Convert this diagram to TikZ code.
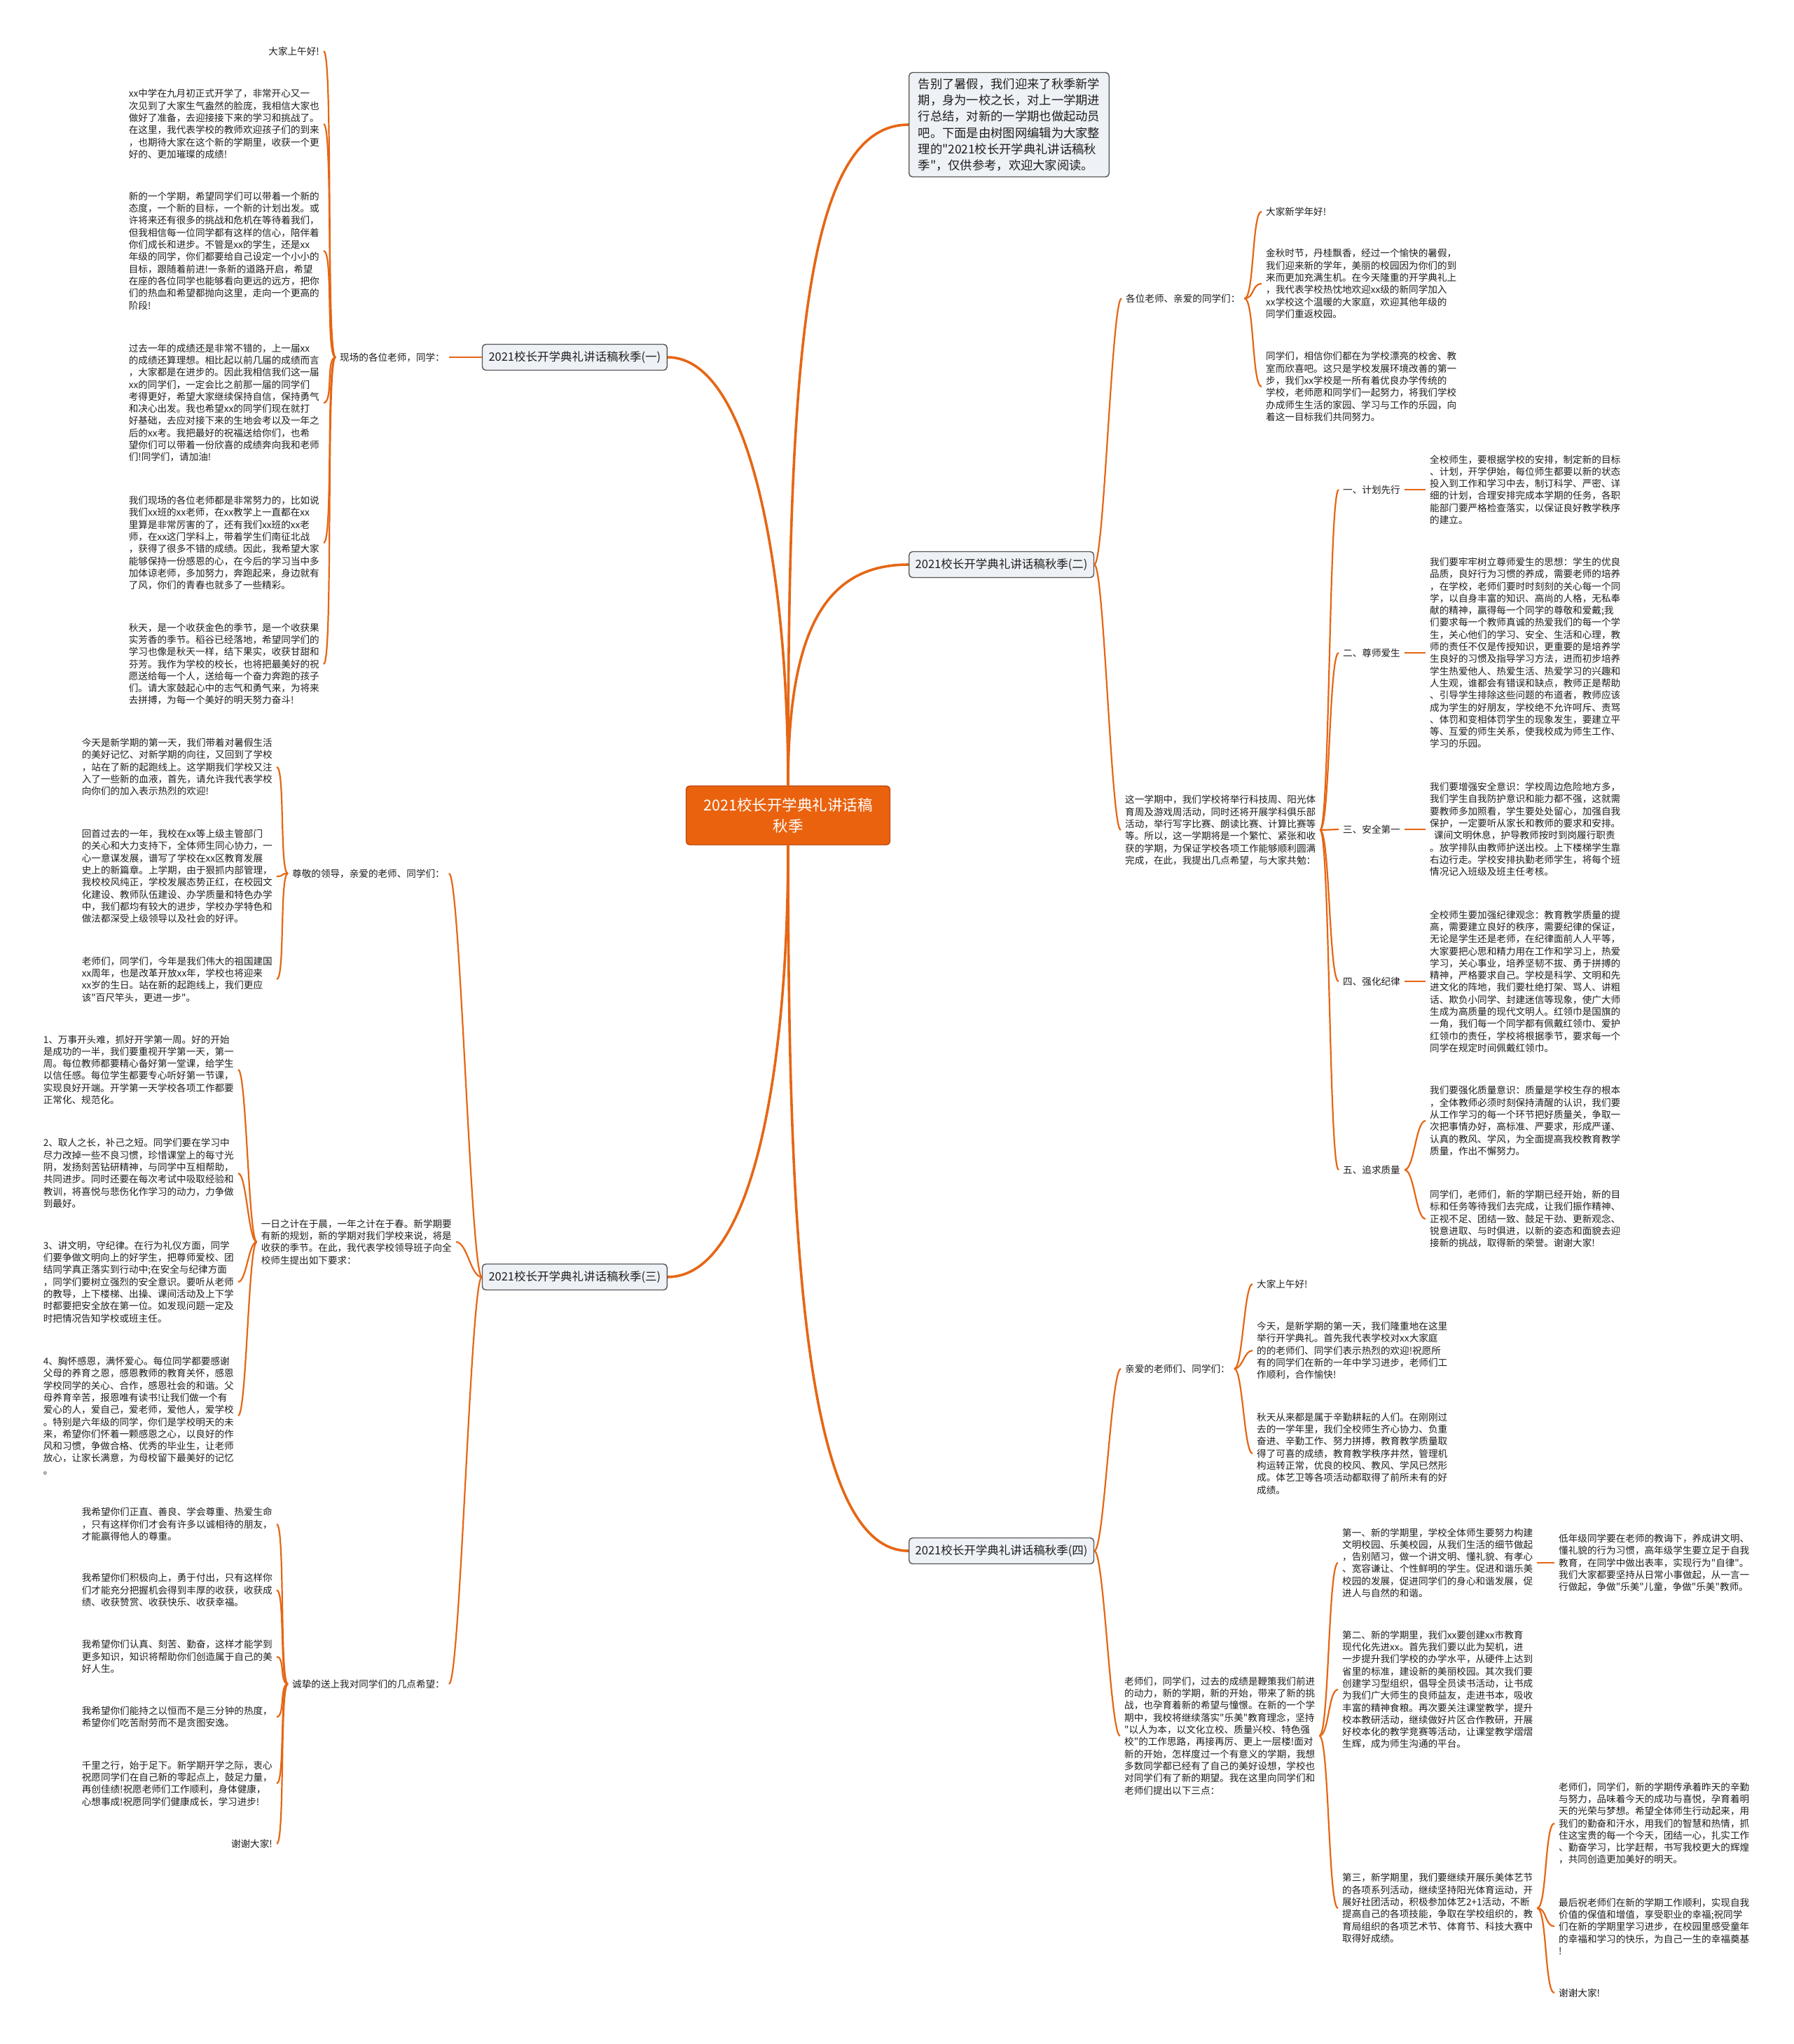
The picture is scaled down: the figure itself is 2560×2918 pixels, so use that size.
\documentclass[tikz,border=0pt]{standalone}
\usepackage{fontspec}
\newfontfamily\cjk{Noto Sans CJK SC}
\definecolor{lineorange}{RGB}{230,102,20}
\definecolor{rootfill}{RGB}{234,98,14}
\definecolor{rootline}{RGB}{190,70,10}
\definecolor{boxfill}{RGB}{238,241,245}
\definecolor{boxline}{RGB}{85,85,85}
\definecolor{inktext}{RGB}{30,30,30}

\begin{document}
\begin{tikzpicture}[x=1pt,y=-1pt,
    leafnote/.style={font=\cjk\fontsize{13.6}{17.3}\selectfont, text=inktext, align=left, inner xsep=6pt, inner ysep=2pt},
    topic/.style={leafnote},
    branchbox/.style={draw=boxline, fill=boxfill, rounded corners=5pt, line width=1.4pt, font=\cjk\fontsize{16.5}{20}\selectfont, text=inktext, inner xsep=9pt, minimum height=37pt},
    introbox/.style={branchbox, font=\cjk\fontsize{17.3}{23.3}\selectfont, align=left, inner xsep=13pt, inner ysep=8pt},
    rootbox/.style={draw=rootline, fill=rootfill, rounded corners=5pt, line width=1.4pt, font=\cjk\fontsize{21.5}{30}\selectfont, text=white, align=center, minimum width=291pt, minimum height=84pt},
    trunk/.style={draw=lineorange, line width=3.6pt},
    twig/.style={draw=lineorange, line width=2.2pt}]

    \fill[white] (0,0) rectangle (2560,2918);
    \useasboundingbox (0,0) rectangle (2560,2918);

    \node[rootbox] (root) at (1125,1164) {2021校长开学典礼讲话稿\\秋季};
    \node[introbox, anchor=west] (intro) at (1297,178) {告别了暑假，我们迎来了秋季新学\\期，身为一校之长，对上一学期进\\行总结，对新的一学期也做起动员\\吧。下面是由树图网编辑为大家整\\理的"2021校长开学典礼讲话稿秋\\季"，仅供参考，欢迎大家阅读。};
    \node[branchbox, anchor=east] (br1) at (953,510) {2021校长开学典礼讲话稿秋季(一)};
    \node[branchbox, anchor=west] (br2) at (1297,806) {2021校长开学典礼讲话稿秋季(二)};
    \node[branchbox, anchor=east] (br3) at (953,1823) {2021校长开学典礼讲话稿秋季(三)};
    \node[branchbox, anchor=west] (br4) at (1297,2214) {2021校长开学典礼讲话稿秋季(四)};

    \draw[trunk] (root.north) .. controls +(0,-600) and +(-150,0) .. (intro.west);
    \draw[trunk] (root.north) .. controls +(0,-220) and +(-120,0) .. (br2.west);
    \draw[trunk] (root.north) .. controls +(0,-300) and +(120,0) .. (br1.east);
    \draw[trunk] (root.south) .. controls +(0,330) and +(120,0) .. (br3.east);
    \draw[trunk] (root.south) .. controls +(0,560) and +(-150,0) .. (br4.west);

    % (一)
    \node[topic, anchor=east] (la) at (641,510) {现场的各位老师，同学：};
    \node[leafnote, anchor=east] (a1) at (462,73) {大家上午好!};
    \node[leafnote, anchor=east] (a2) at (462,177) {xx中学在九月初正式开学了，非常开心又一\\次见到了大家生气盎然的脸庞，我相信大家也\\做好了准备，去迎接接下来的学习和挑战了。\\在这里，我代表学校的教师欢迎孩子们的到来\\，也期待大家在这个新的学期里，收获一个更\\好的、更加璀璨的成绩!};
    \node[leafnote, anchor=east] (a3) at (462,358) {新的一个学期，希望同学们可以带着一个新的\\态度，一个新的目标，一个新的计划出发。或\\许将来还有很多的挑战和危机在等待着我们，\\但我相信每一位同学都有这样的信心，陪伴着\\你们成长和进步。不管是xx的学生，还是xx\\年级的同学，你们都要给自己设定一个小小的\\目标，跟随着前进!一条新的道路开启，希望\\在座的各位同学也能够看向更远的远方，把你\\们的热血和希望都抛向这里，走向一个更高的\\阶段!};
    \node[leafnote, anchor=east] (a4) at (462,575) {过去一年的成绩还是非常不错的，上一届xx\\的成绩还算理想。相比起以前几届的成绩而言\\，大家都是在进步的。因此我相信我们这一届\\xx的同学们，一定会比之前那一届的同学们\\考得更好，希望大家继续保持自信，保持勇气\\和决心出发。我也希望xx的同学们现在就打\\好基础，去应对接下来的生地会考以及一年之\\后的xx考。我把最好的祝福送给你们，也希\\望你们可以带着一份欣喜的成绩奔向我和老师\\们!同学们，请加油!};
    \node[leafnote, anchor=east] (a5) at (462,775) {我们现场的各位老师都是非常努力的，比如说\\我们xx班的xx老师，在xx教学上一直都在xx\\里算是非常厉害的了，还有我们xx班的xx老\\师，在xx这门学科上，带着学生们南征北战\\，获得了很多不错的成绩。因此，我希望大家\\能够保持一份感恩的心，在今后的学习当中多\\加体谅老师，多加努力，奔跑起来，身边就有\\了风，你们的青春也就多了一些精彩。};
    \node[leafnote, anchor=east] (a6) at (462,948) {秋天，是一个收获金色的季节，是一个收获果\\实芳香的季节。稻谷已经落地，希望同学们的\\学习也像是秋天一样，结下果实，收获甘甜和\\芬芳。我作为学校的校长，也将把最美好的祝\\愿送给每一个人，送给每一个奋力奔跑的孩子\\们。请大家鼓起心中的志气和勇气来，为将来\\去拼搏，为每一个美好的明天努力奋斗!};
    \draw[twig] (br1.west) -- (la.east);
    \foreach \n in {1,...,6}
        \draw[twig] (la.west) .. controls +(-14,0) and +(14,0) .. (a\n.east);

    % (三)
    \node[topic, anchor=east] (lb) at (641,1247) {尊敬的领导，亲爱的老师、同学们：};
    \node[leafnote, anchor=east] (b1) at (395,1095) {今天是新学期的第一天，我们带着对暑假生活\\的美好记忆、对新学期的向往，又回到了学校\\，站在了新的起跑线上。这学期我们学校又注\\入了一些新的血液，首先，请允许我代表学校\\向你们的加入表示热烈的欢迎!};
    \node[leafnote, anchor=east] (b2) at (395,1251) {回首过去的一年，我校在xx等上级主管部门\\的关心和大力支持下，全体师生同心协力，一\\心一意谋发展，谱写了学校在xx区教育发展\\史上的新篇章。上学期，由于狠抓内部管理，\\我校校风纯正，学校发展态势正红，在校园文\\化建设、教师队伍建设、办学质量和特色办学\\中，我们都均有较大的进步，学校办学特色和\\做法都深受上级领导以及社会的好评。};
    \node[leafnote, anchor=east] (b3) at (395,1398) {老师们，同学们，今年是我们伟大的祖国建国\\xx周年，也是改革开放xx年，学校也将迎来\\xx岁的生日。站在新的起跑线上，我们更应\\该"百尺竿头，更进一步"。};
    \node[leafnote, anchor=east] (lc) at (651,1773) {一日之计在于晨，一年之计在于春。新学期要\\有新的规划，新的学期对我们学校来说，将是\\收获的季节。在此，我代表学校领导班子向全\\校师生提出如下要求：};
    \node[leafnote, anchor=east] (c1) at (340,1527) {1、万事开头难，抓好开学第一周。好的开始\\是成功的一半，我们要重视开学第一天，第一\\周。每位教师都要精心备好第一堂课，给学生\\以信任感。每位学生都要专心听好第一节课，\\实现良好开端。开学第一天学校各项工作都要\\正常化、规范化。};
    \node[leafnote, anchor=east] (c2) at (340,1675) {2、取人之长，补己之短。同学们要在学习中\\尽力改掉一些不良习惯，珍惜课堂上的每寸光\\阴，发扬刻苦钻研精神，与同学中互相帮助，\\共同进步。同时还要在每次考试中吸取经验和\\教训，将喜悦与悲伤化作学习的动力，力争做\\到最好。};
    \node[leafnote, anchor=east] (c3) at (340,1830) {3、讲文明，守纪律。在行为礼仪方面，同学\\们要争做文明向上的好学生，把尊师爱校、团\\结同学真正落实到行动中;在安全与纪律方面\\，同学们要树立强烈的安全意识。要听从老师\\的教导，上下楼梯、出操、课间活动及上下学\\时都要把安全放在第一位。如发现问题一定及\\时把情况告知学校或班主任。};
    \node[leafnote, anchor=east] (c4) at (340,2021) {4、胸怀感恩，满怀爱心。每位同学都要感谢\\父母的养育之恩，感恩教师的教育关怀，感恩\\学校同学的关心、合作，感恩社会的和谐。父\\母养育辛苦，报恩唯有读书!让我们做一个有\\爱心的人，爱自己，爱老师，爱他人，爱学校\\。特别是六年级的同学，你们是学校明天的未\\来，希望你们怀着一颗感恩之心，以良好的作\\风和习惯，争做合格、优秀的毕业生，让老师\\放心，让家长满意，为母校留下最美好的记忆\\。};
    \node[topic, anchor=east] (ld) at (641,2404) {诚挚的送上我对同学们的几点希望：};
    \node[leafnote, anchor=east] (d1) at (395,2176) {我希望你们正直、善良、学会尊重、热爱生命\\，只有这样你们才会有许多以诚相待的朋友，\\才能赢得他人的尊重。};
    \node[leafnote, anchor=east] (d2) at (395,2270) {我希望你们积极向上，勇于付出，只有这样你\\们才能充分把握机会得到丰厚的收获，收获成\\绩、收获赞赏、收获快乐、收获幸福。};
    \node[leafnote, anchor=east] (d3) at (395,2365) {我希望你们认真、刻苦、勤奋，这样才能学到\\更多知识，知识将帮助你们创造属于自己的美\\好人生。};
    \node[leafnote, anchor=east] (d4) at (395,2451) {我希望你们能持之以恒而不是三分钟的热度，\\希望你们吃苦耐劳而不是贪图安逸。};
    \node[leafnote, anchor=east] (d5) at (395,2546) {千里之行，始于足下。新学期开学之际，衷心\\祝愿同学们在自己新的零起点上，鼓足力量，\\再创佳绩!祝愿老师们工作顺利，身体健康，\\心想事成!祝愿同学们健康成长，学习进步!};
    \node[leafnote, anchor=east] (d6) at (395,2632) {谢谢大家!};
    \foreach \t in {lb,lc,ld}
        \draw[twig] (br3.west) .. controls +(-16,0) and +(16,0) .. (\t.east);
    \foreach \n in {1,2,3}
        \draw[twig] (lb.west) .. controls +(-12,0) and +(12,0) .. (b\n.east);
    \foreach \n in {1,...,4}
        \draw[twig] (lc.west) .. controls +(-12,0) and +(12,0) .. (c\n.east);
    \foreach \n in {1,...,6}
        \draw[twig] (ld.west) .. controls +(-12,0) and +(12,0) .. (d\n.east);

    % (二)
    \node[topic, anchor=west] (le) at (1601,426) {各位老师、亲爱的同学们：};
    \node[leafnote, anchor=west] (e1) at (1801,302) {大家新学年好!};
    \node[leafnote, anchor=west] (e2) at (1801,405) {金秋时节，丹桂飘香，经过一个愉快的暑假，\\我们迎来新的学年，美丽的校园因为你们的到\\来而更加充满生机。在今天隆重的开学典礼上\\，我代表学校热忱地欢迎xx级的新同学加入\\xx学校这个温暖的大家庭，欢迎其他年级的\\同学们重返校园。};
    \node[leafnote, anchor=west] (e3) at (1801,552) {同学们，相信你们都在为学校漂亮的校舍、教\\室而欣喜吧。这只是学校发展环境改善的第一\\步，我们xx学校是一所有着优良办学传统的\\学校，老师愿和同学们一起努力，将我们学校\\办成师生生活的家园、学习与工作的乐园，向\\着这一目标我们共同努力。};
    \node[leafnote, anchor=west] (lf) at (1600,1185) {这一学期中，我们学校将举行科技周、阳光体\\育周及游戏周活动，同时还将开展学科俱乐部\\活动，举行写字比赛、朗读比赛、计算比赛等\\等。所以，这一学期将是一个繁忙、紧张和收\\获的学期，为保证学校各项工作能够顺利圆满\\完成，在此，我提出几点希望，与大家共勉：};
    \node[topic, anchor=west] (f1) at (1911,699) {一、计划先行};
    \node[topic, anchor=west] (f2) at (1911,932) {二、尊师爱生};
    \node[topic, anchor=west] (f3) at (1911,1184) {三、安全第一};
    \node[topic, anchor=west] (f4) at (1911,1401) {四、强化纪律};
    \node[topic, anchor=west] (f5) at (1911,1670) {五、追求质量};
    \node[leafnote, anchor=west] (g1) at (2035,699) {全校师生，要根据学校的安排，制定新的目标\\、计划，开学伊始，每位师生都要以新的状态\\投入到工作和学习中去，制订科学、严密、详\\细的计划，合理安排完成本学期的任务，各职\\能部门要严格检查落实，以保证良好教学秩序\\的建立。};
    \node[leafnote, anchor=west] (g2) at (2035,932) {我们要牢牢树立尊师爱生的思想：学生的优良\\品质，良好行为习惯的养成，需要老师的培养\\，在学校，老师们要时时刻刻的关心每一个同\\学，以自身丰富的知识、高尚的人格，无私奉\\献的精神，赢得每一个同学的尊敬和爱戴;我\\们要求每一个教师真诚的热爱我们的每一个学\\生，关心他们的学习、安全、生活和心理，教\\师的责任不仅是传授知识，更重要的是培养学\\生良好的习惯及指导学习方法，进而初步培养\\学生热爱他人、热爱生活、热爱学习的兴趣和\\人生观，谁都会有错误和缺点，教师正是帮助\\、引导学生排除这些问题的布道者，教师应该\\成为学生的好朋友，学校绝不允许呵斥、责骂\\、体罚和变相体罚学生的现象发生，要建立平\\等、互爱的师生关系，使我校成为师生工作、\\学习的乐园。};
    \node[leafnote, anchor=west] (g3) at (2035,1184) {我们要增强安全意识：学校周边危险地方多，\\我们学生自我防护意识和能力都不强，这就需\\要教师多加照看，学生要处处留心，加强自我\\保护，一定要听从家长和教师的要求和安排。\\\hspace{6pt}课间文明休息，护导教师按时到岗履行职责\\。放学排队由教师护送出校。上下楼梯学生靠\\右边行走。学校安排执勤老师学生，将每个班\\情况记入班级及班主任考核。};
    \node[leafnote, anchor=west] (g4) at (2035,1401) {全校师生要加强纪律观念：教育教学质量的提\\高，需要建立良好的秩序，需要纪律的保证，\\无论是学生还是老师，在纪律面前人人平等，\\大家要把心思和精力用在工作和学习上，热爱\\学习，关心事业，培养坚韧不拔、勇于拼搏的\\精神，严格要求自己。学校是科学、文明和先\\进文化的阵地，我们要杜绝打架、骂人、讲粗\\话、欺负小同学、封建迷信等现象，使广大师\\生成为高质量的现代文明人。红领巾是国旗的\\一角，我们每一个同学都有佩戴红领巾、爱护\\红领巾的责任，学校将根据季节，要求每一个\\同学在规定时间佩戴红领巾。};
    \node[leafnote, anchor=west] (g5) at (2035,1600) {我们要强化质量意识：质量是学校生存的根本\\，全体教师必须时刻保持清醒的认识，我们要\\从工作学习的每一个环节把好质量关，争取一\\次把事情办好，高标准、严要求，形成严谨、\\认真的教风、学风，为全面提高我校教育教学\\质量，作出不懈努力。};
    \node[leafnote, anchor=west] (g6) at (2035,1740) {同学们，老师们，新的学期已经开始，新的目\\标和任务等待我们去完成，让我们振作精神、\\正视不足、团结一致、鼓足干劲、更新观念、\\锐意进取、与时俱进，以新的姿态和面貌去迎\\接新的挑战，取得新的荣誉。谢谢大家!};
    \foreach \t in {le,lf}
        \draw[twig] (br2.east) .. controls +(14,0) and +(-14,0) .. (\t.west);
    \foreach \n in {1,2,3}
        \draw[twig] (le.east) .. controls +(14,0) and +(-14,0) .. (e\n.west);
    \foreach \n in {1,...,5}
        \draw[twig] (lf.east) .. controls +(14,0) and +(-14,0) .. (f\n.west);
    \foreach \n in {1,...,4}
        \draw[twig] (f\n.east) -- (g\n.west);
    \foreach \n in {5,6}
        \draw[twig] (f5.east) .. controls +(14,0) and +(-14,0) .. (g\n.west);

    % (四)
    \node[topic, anchor=west] (lh) at (1600,1954) {亲爱的老师们、同学们：};
    \node[leafnote, anchor=west] (h1) at (1788,1833) {大家上午好!};
    \node[leafnote, anchor=west] (h2) at (1788,1928) {今天，是新学期的第一天，我们隆重地在这里\\举行开学典礼。首先我代表学校对xx大家庭\\的的老师们、同学们表示热烈的欢迎!祝愿所\\有的同学们在新的一年中学习进步，老师们工\\作顺利，合作愉快!};
    \node[leafnote, anchor=west] (h3) at (1788,2075) {秋天从来都是属于辛勤耕耘的人们。在刚刚过\\去的一学年里，我们全校师生齐心协力、负重\\奋进、辛勤工作、努力拼搏，教育教学质量取\\得了可喜的成绩，教育教学秩序井然，管理机\\构运转正常，优良的校风、教风、学风已然形\\成。体艺卫等各项活动都取得了前所未有的好\\成绩。};
    \node[leafnote, anchor=west] (li) at (1599,2478) {老师们，同学们，过去的成绩是鞭策我们前进\\的动力，新的学期，新的开始，带来了新的挑\\战，也孕育着新的希望与憧憬。在新的一个学\\期中，我校将继续落实"乐美"教育理念，坚持\\"以人为本，以文化立校、质量兴校、特色强\\校"的工作思路，再接再厉、更上一层楼!面对\\新的开始，怎样度过一个有意义的学期，我想\\多数同学都已经有了自己的美好设想，学校也\\对同学们有了新的期望。我在这里向同学们和\\老师们提出以下三点：};
    \node[leafnote, anchor=west] (i1) at (1910,2231) {第一、新的学期里，学校全体师生要努力构建\\文明校园、乐美校园，从我们生活的细节做起\\，告别陋习，做一个讲文明、懂礼貌、有孝心\\、宽容谦让、个性鲜明的学生。促进和谐乐美\\校园的发展，促进同学们的身心和谐发展，促\\进人与自然的和谐。};
    \node[leafnote, anchor=west] (i2) at (1910,2412) {第二、新的学期里，我们xx要创建xx市教育\\现代化先进xx。首先我们要以此为契机，进\\一步提升我们学校的办学水平，从硬件上达到\\省里的标准，建设新的美丽校园。其次我们要\\创建学习型组织，倡导全员读书活动，让书成\\为我们广大师生的良师益友，走进书本，吸收\\丰富的精神食粮。再次要关注课堂教学，提升\\校本教研活动，继续做好片区合作教研，开展\\好校本化的教学竞赛等活动，让课堂教学熠熠\\生辉，成为师生沟通的平台。};
    \node[leafnote, anchor=west] (i3) at (1910,2724) {第三，新学期里，我们要继续开展乐美体艺节\\的各项系列活动，继续坚持阳光体育运动，开\\展好社团活动，积极参加体艺2+1活动，不断\\提高自己的各项技能，争取在学校组织的，教\\育局组织的各项艺术节、体育节、科技大赛中\\取得好成绩。};
    \node[leafnote, anchor=west] (j1) at (2219,2231) {低年级同学要在老师的教诲下，养成讲文明、\\懂礼貌的行为习惯，高年级学生要立足于自我\\教育，在同学中做出表率，实现行为"自律"。\\我们大家都要坚持从日常小事做起，从一言一\\行做起，争做"乐美"儿童，争做"乐美"教师。};
    \node[leafnote, anchor=west] (k1) at (2219,2603) {老师们，同学们，新的学期传承着昨天的辛勤\\与努力，品味着今天的成功与喜悦，孕育着明\\天的光荣与梦想。希望全体师生行动起来，用\\我们的勤奋和汗水，用我们的智慧和热情，抓\\住这宝贵的每一个今天，团结一心，扎实工作\\、勤奋学习，比学赶帮，书写我校更大的辉煌\\，共同创造更加美好的明天。};
    \node[leafnote, anchor=west] (k2) at (2219,2750) {最后祝老师们在新的学期工作顺利，实现自我\\价值的保值和增值，享受职业的幸福;祝同学\\们在新的学期里学习进步，在校园里感受童年\\的幸福和学习的快乐，为自己一生的幸福奠基\\!};
    \node[leafnote, anchor=west] (k3) at (2219,2845) {谢谢大家!};
    \foreach \t in {lh,li}
        \draw[twig] (br4.east) .. controls +(14,0) and +(-14,0) .. (\t.west);
    \foreach \n in {1,2,3}
        \draw[twig] (lh.east) .. controls +(12,0) and +(-12,0) .. (h\n.west);
    \foreach \n in {1,2,3}
        \draw[twig] (li.east) .. controls +(14,0) and +(-14,0) .. (i\n.west);
    \draw[twig] (i1.east) -- (j1.west);
    \foreach \n in {1,2,3}
        \draw[twig] (i3.east) .. controls +(14,0) and +(-14,0) .. (k\n.west);
\end{tikzpicture}
\end{document}
